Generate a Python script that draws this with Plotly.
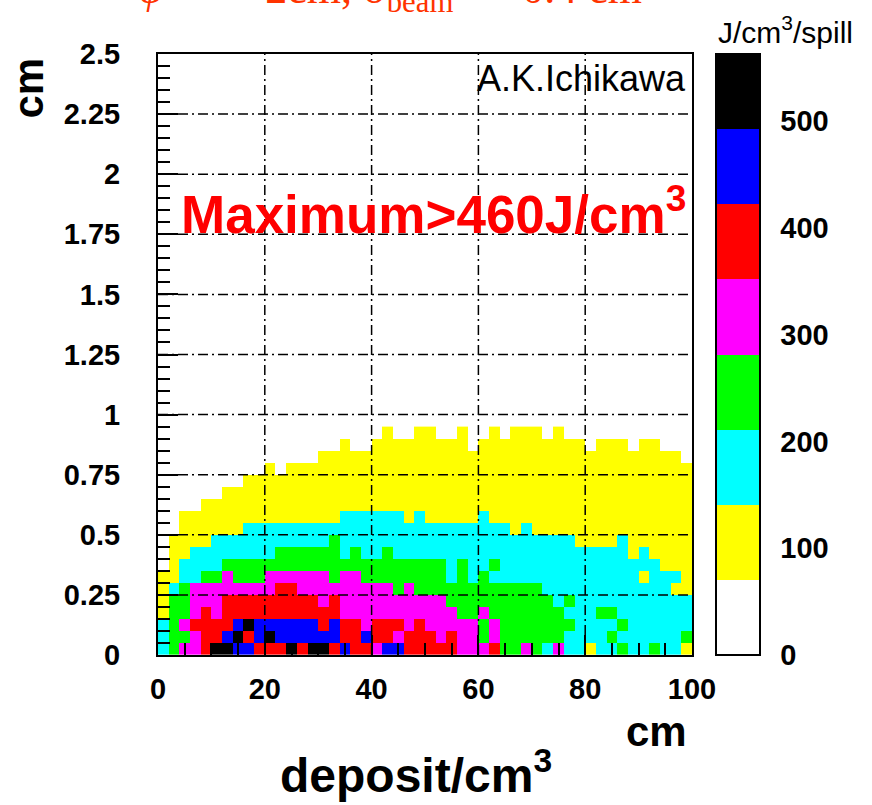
import numpy as np
import plotly.graph_objects as go

# ---- histogram definition -------------------------------------------------
X_RANGE = (0.0, 100.0)      # cm
Y_RANGE = (0.0, 2.5)        # cm
X_BIN = 2.0                 # cm
Y_BIN = 0.05                # cm

# colour levels of the palette (J/cm^3/spill); level k spans k..k+1 of Z_MAX/8
Z_MAX = 563.0
N_LEVELS = 8
LEVEL_COLORS = ["#ffffff", "#ffff00", "#00ffff", "#00ff00",
                "#ff00ff", "#ff0000", "#0000ff", "#000000"]

# deposit level per cell, bottom row first; one digit per 2 cm bin (0 = empty)
LEVEL_ROWS = [
    "2344577665 5575775655 4665555544 4533432422 1223223221",
    "2334556756 7666666556 5545554544 3433333322 2232222223",
    "2345555676 6666656554 5554544444 3433333332 2223222222",
    "1334545555 5555555444 4444444433 4333333322 2332222222",
    "1334445555 5555545444 4444444333 3333333232 2222222222",
    "1234444444 4554444444 4434333333 3333332222 2222222211",
    "1122334333 4444443443 3333333232 3222222222 2222212221",
    "0122223333 3333333333 3333333232 2322222222 2222222111",
    "0112222222 2333333232 2322222222 2222222222 2222121111",
    "0111122222 2222223222 2222222222 2222222221 1112111111",
    "0011111122 2222222222 2222222222 2221211111 1111111111",
    "0011111111 1111111222 2221211111 2111111111 1111111111",
    "0000111111 1111111111 1111111111 1111111111 1111111111",
    "0000001111 1111111111 1111111111 1111111111 1111111111",
    "0000000011 1111111111 1111111111 1111111111 1111111111",
    "0000000000 1011111111 1111111111 1111111111 1111111111",
    "0000000000 0000011111 1111111111 1111111111 1111111110",
    "0000000000 0000000100 1111111110 1111111111 0111011000",
    "0000000000 0000000000 0100110010 0101110100 0000000000",
]

X_TICK_STEP = 20
Y_TICK_STEP = 0.25
CBAR_TICKS = [0, 100, 200, 300, 400, 500]

# ---- build the histogram arrays -------------------------------------------
level_grid = np.array([[int(c) for c in row.replace(" ", "")] for row in LEVEL_ROWS])
level_width = Z_MAX / N_LEVELS
z = np.where(level_grid > 0, (level_grid + 0.5) * level_width, np.nan)

x_centers = np.arange(X_RANGE[0], X_RANGE[1], X_BIN) + X_BIN / 2
y_centers = Y_RANGE[0] + Y_BIN * np.arange(level_grid.shape[0]) + Y_BIN / 2

colorscale = []
for k, col in enumerate(LEVEL_COLORS):
    colorscale.append([k / N_LEVELS, col])
    colorscale.append([(k + 1) / N_LEVELS, col])

BOLD = dict(family="Liberation Sans", color="black", weight="bold")

fig = go.Figure()
fig.add_trace(go.Heatmap(
    x=x_centers, y=y_centers, z=z,
    zmin=0, zmax=Z_MAX, colorscale=colorscale,
    xgap=0, ygap=0, hoverongaps=False,
    colorbar=dict(
        x=1.045, xanchor="left", xpad=0, ypad=0,
        y=0, yanchor="bottom", len=1, lenmode="fraction",
        thickness=44, thicknessmode="pixels",
        outlinecolor="black", outlinewidth=2,
        tickvals=CBAR_TICKS, ticks="outside", ticklen=14,
        tickcolor="rgba(0,0,0,0)",
        tickfont=dict(size=29, **BOLD),
    ),
))

# dash-dot grid drawn over the cells
shapes = []
grid_line = dict(color="black", width=1.5, dash="10px,4px,2px,4px")
for xv in range(X_TICK_STEP, int(X_RANGE[1]), X_TICK_STEP):
    shapes.append(dict(type="line", xref="x", yref="paper", x0=xv, x1=xv,
                       y0=0, y1=1, line=grid_line, layer="above"))
for yv in np.arange(Y_TICK_STEP, Y_RANGE[1] - 1e-9, Y_TICK_STEP):
    shapes.append(dict(type="line", xref="paper", yref="y", x0=0, x1=1,
                       y0=yv, y1=yv, line=grid_line, layer="above"))
# separators across the palette at the labelled values
cb_x0 = 1.045
cb_x1 = 1.045 + 44 / 534
for v in CBAR_TICKS[1:]:
    shapes.append(dict(type="line", xref="paper", yref="paper",
                       x0=cb_x0, x1=cb_x1, y0=v / Z_MAX, y1=v / Z_MAX,
                       line=dict(color="black", width=1.5), layer="above"))

axis_common = dict(
    showgrid=False, zeroline=False, showline=True, linecolor="black",
    linewidth=2, mirror=True, layer="above traces",
    ticks="inside", tickcolor="black", tickwidth=2,
    tickfont=dict(size=29, **BOLD),
)

fig.update_layout(
    width=872, height=805,
    margin=dict(l=158, r=180, t=54, b=150),
    paper_bgcolor="white", plot_bgcolor="white",
    showlegend=False,
    shapes=shapes,
    xaxis=dict(range=list(X_RANGE), tick0=0, dtick=X_TICK_STEP, ticklen=20,
               minor=dict(dtick=5, ticks="inside", ticklen=12,
                          tickcolor="black", tickwidth=2),
               ticklabelstandoff=7, **axis_common),
    yaxis=dict(range=list(Y_RANGE), tick0=0, dtick=Y_TICK_STEP, ticklen=20,
               minor=dict(dtick=0.05, ticks="inside", ticklen=12,
                          tickcolor="black", tickwidth=2),
               ticklabelstandoff=30, **axis_common),
    annotations=[
        dict(text="cm", xref="paper", yref="paper", x=-0.2425, y=0.9434,
             textangle=-90, showarrow=False, xanchor="center", yanchor="middle",
             font=dict(size=42, **BOLD)),
        dict(text="cm", xref="paper", yref="paper", x=0.9326, y=-0.1265,
             showarrow=False, xanchor="center", yanchor="middle",
             font=dict(size=42, **BOLD)),
        dict(text="deposit/cm<sup>3</sup>", xref="paper", yref="paper",
             x=0.483, y=-0.1947, showarrow=False,
             xanchor="center", yanchor="middle", font=dict(size=48, **BOLD)),
        dict(text="A.K.Ichikawa", xref="paper", yref="paper", x=0.9925, y=0.960,
             showarrow=False, xanchor="right", yanchor="middle",
             font=dict(family="Liberation Sans", size=36, color="black")),
        dict(text="Maximum>460J/cm<sup>3</sup>", xref="paper", yref="paper",
             x=0.9925, y=0.740, showarrow=False, xanchor="right", yanchor="middle",
             font=dict(family="Liberation Sans", size=53, color="#ff0000",
                       weight="bold")),
        dict(text="J/cm<sup>3</sup>/spill", xref="paper", yref="paper",
             x=1.045, y=1.04, showarrow=False, xanchor="left", yanchor="middle",
             font=dict(family="Liberation Sans", size=30, color="black")),
        dict(text="<i>φ</i>      = 2cm, σ<sub>beam</sub>  =  0.4 cm",
             xref="paper", yref="paper", x=-0.04, y=1.1045, showarrow=False,
             xanchor="left", yanchor="middle",
             font=dict(family="Liberation Serif", size=44, color="#ff3300")),
    ],
)

fig.write_html("out.html")
